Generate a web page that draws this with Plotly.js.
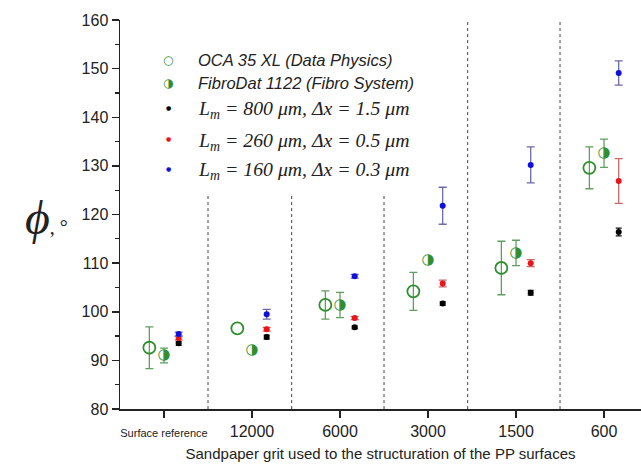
<!DOCTYPE html>
<html>
<head>
<meta charset="utf-8">
<script src="https://cdn.plot.ly/plotly-3.0.1.min.js"></script>
<style>html,body{margin:0;padding:0;background:#fff;}#chart{width:641px;height:465px;}</style>
</head>
<body>
<div id="chart"></div>
<script>
// ---- data ----
var categories = ["Surface reference", "12000", "6000", "3000", "1500", "600"];

var ocaValues   = [92.6, 96.6, 101.4, 104.2, 109.0, 129.6];
var ocaErrors   = [4.3, null, 2.9, 3.9, 5.5, 4.3];

var fibroValues = [91.0, 92.0, 101.4, 110.5, 112.1, 132.6];
var fibroErrors = [1.5, null, 2.6, null, 2.6, 2.9];

var lm800Values = [93.5, 94.8, 96.8, 101.7, 103.9, 116.4];
var lm800Errors = [0.4, 0.4, 0.3, 0.4, 0.5, 0.8];

var lm260Values = [94.6, 96.4, 98.7, 105.8, 110.0, 126.9];
var lm260Errors = [0.4, 0.4, 0.3, 0.7, 0.7, 4.6];

var lm160Values = [95.4, 99.5, 107.3, 121.8, 130.2, 149.1];
var lm160Errors = [0.4, 1.0, 0.4, 3.8, 3.7, 2.5];

var legendLabels = [
  "OCA 35 XL (Data Physics)",
  "FibroDat 1122 (Fibro System)",
  "L<sub>m</sub> = 800 μm, Δx = 1.5 μm",
  "L<sub>m</sub> = 260 μm, Δx = 0.5 μm",
  "L<sub>m</sub> = 160 μm, Δx = 0.3 μm"
];
var yTitle = "ϕ";
var xTitle = "Sandpaper grit used to the structuration of the PP surfaces";

// ---- layout constants ----
var offsets = {oca: -1/6, fibro: 0, sim: 1/6};
var dividerPos = [0.5, 1.45, 2.5, 3.45, 4.5];
var dividerTop = [124, 124, 124, 160, 160];

function xs(off) { return categories.map(function (c, i) { return i + off; }); }
function errs(a) { return a.map(function (v) { return v === null ? NaN : v; }); }

var green = "#2f8f2f";
var traces = [
  {
    x: xs(offsets.oca), y: ocaValues, type: "scatter", mode: "markers",
    marker: {symbol: "circle-open", size: 12, color: green, line: {width: 1.8, color: green}},
    error_y: {type: "data", array: errs(ocaErrors), visible: true, color: "#5f9f5f", thickness: 1.3, width: 4},
    showlegend: false, hoverinfo: "skip"
  },
  {
    x: xs(offsets.fibro), y: fibroValues, type: "scatter", mode: "markers+text",
    text: fibroValues.map(function () { return "◑"; }),
    textposition: "middle center",
    textfont: {family: "DejaVu Sans", size: 15, color: green},
    marker: {size: 12, color: "rgba(0,0,0,0)"},
    error_y: {type: "data", array: errs(fibroErrors), visible: true, color: "#5f9f5f", thickness: 1.3, width: 4},
    showlegend: false, hoverinfo: "skip"
  },
  {
    x: xs(offsets.sim), y: lm800Values, type: "scatter", mode: "markers",
    marker: {symbol: "circle", size: 6, color: "#000"},
    error_y: {type: "data", array: lm800Errors, visible: true, color: "#111", thickness: 1.3, width: 3},
    showlegend: false, hoverinfo: "skip"
  },
  {
    x: xs(offsets.sim), y: lm260Values, type: "scatter", mode: "markers",
    marker: {symbol: "circle", size: 6, color: "#e8161b"},
    error_y: {type: "data", array: lm260Errors, visible: true, color: "#c86a6a", thickness: 1.3, width: 4},
    showlegend: false, hoverinfo: "skip"
  },
  {
    x: xs(offsets.sim), y: lm160Values, type: "scatter", mode: "markers",
    marker: {symbol: "circle", size: 6, color: "#1010d8"},
    error_y: {type: "data", array: lm160Errors, visible: true, color: "#6a6aa8", thickness: 1.3, width: 4},
    showlegend: false, hoverinfo: "skip"
  }
];

var shapes = dividerPos.map(function (p, i) {
  return {type: "line", xref: "x", yref: "y", x0: p, x1: p, y0: 80, y1: dividerTop[i],
          line: {color: "#666", width: 1.2, dash: "dot"}, layer: "below"};
});

// custom legend (glyph + text) in paper coordinates
var legGlyphs = [
  {t: "○", c: green, s: 12},
  {t: "◑", c: green, s: 12},
  {t: "●", c: "#000", s: 6},
  {t: "●", c: "#e8161b", s: 6},
  {t: "●", c: "#1010d8", s: 6}
];
var legRowsPx = [60, 83, 107, 138, 168];
function py(p) { return (409 - p) / 389; }
function px(p) { return (p - 120) / 521; }

var annotations = [];
legendLabels.forEach(function (lab, i) {
  annotations.push({
    xref: "paper", yref: "paper", x: px(168), y: py(legRowsPx[i]), xanchor: "center", yanchor: "middle",
    text: legGlyphs[i].t, showarrow: false, font: {family: "DejaVu Sans", size: legGlyphs[i].s, color: legGlyphs[i].c}
  });
  var serif = i >= 2;
  annotations.push({
    xref: "paper", yref: "paper", x: px(196), y: py(legRowsPx[i] + (serif ? 3 : 0)), xanchor: "left", yanchor: "middle",
    text: "<i>" + lab + "</i>", showarrow: false,
    font: serif ? {family: "Liberation Serif", size: 19.8, color: "#222"} : {family: "Liberation Sans", size: 16.5, color: "#222"}
  });
});
annotations.push({
  xref: "paper", yref: "paper", x: px(46), y: py(218), xanchor: "center", yanchor: "middle",
  text: "<i>" + yTitle + "</i><span style='font-size:20px'>, °</span>", showarrow: false,
  font: {family: "Liberation Serif", size: 48, color: "#222"}
});

var layout = {
  width: 641, height: 465,
  margin: {l: 120, r: 0, t: 20, b: 56},
  paper_bgcolor: "#fff", plot_bgcolor: "#fff",
  font: {family: "Liberation Sans", color: "#222"},
  xaxis: {
    range: [-0.5, 5.42], showgrid: false, zeroline: false,
    showline: true, linecolor: "#222", linewidth: 1.5,
    ticks: "outside", ticklen: 7, tickwidth: 1.5, tickcolor: "#222",
    tickvals: categories.map(function (c, i) { return i; }),
    ticktext: categories.map(function (c, i) { return i === 0 ? "<span style='font-size:11px'>" + c + "</span>" : c; }),
    tickfont: {size: 16, family: "Liberation Sans", color: "#222"},
    title: {text: xTitle, font: {size: 15, family: "Liberation Sans", color: "#222"}, standoff: 10}
  },
  yaxis: {
    range: [80, 160], showgrid: false, zeroline: false,
    showline: true, linecolor: "#222", linewidth: 1.5,
    ticks: "outside", ticklen: 7, tickwidth: 1.5, tickcolor: "#222",
    tickvals: [80, 90, 100, 110, 120, 130, 140, 150, 160],
    tickfont: {size: 16, family: "Liberation Sans", color: "#222"},
    minor: {tickvals: [85, 95, 105, 115, 125, 135, 145, 155], ticks: "outside", ticklen: 4, tickwidth: 1.2, tickcolor: "#222"}
  },
  shapes: shapes,
  annotations: annotations,
  showlegend: false
};

Plotly.newPlot("chart", traces, layout, {staticPlot: true, displayModeBar: false});
</script>
</body>
</html>
